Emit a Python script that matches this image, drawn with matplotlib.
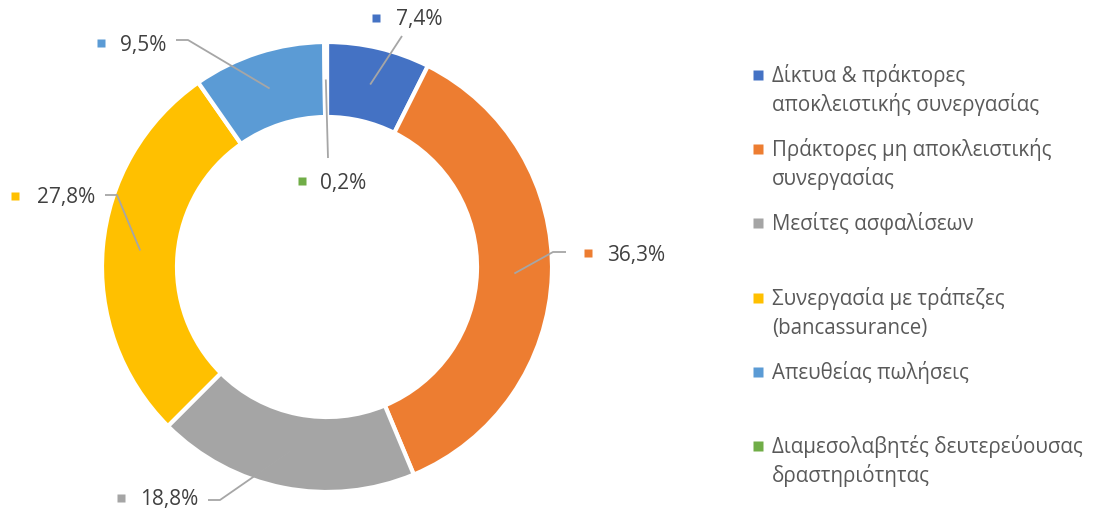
import numpy as np
import matplotlib
matplotlib.use("Agg")
import matplotlib.pyplot as plt

plt.rcParams['font.family'] = ['Open Sans', 'DejaVu Sans']

# данные
categories = [
    "Δίκτυα & πράκτορες\nαποκλειστικής συνεργασίας",
    "Πράκτορες μη αποκλειστικής\nσυνεργασίας",
    "Μεσίτες ασφαλίσεων",
    "Συνεργασία με τράπεζες\n(bancassurance)",
    "Απευθείας πωλήσεις",
    "Διαμεσολαβητές δευτερεύουσας\nδραστηριότητας",
]
values = [7.4, 36.3, 18.8, 27.8, 9.5, 0.2]
labels = ["7,4%", "36,3%", "18,8%", "27,8%", "9,5%", "0,2%"]
colors = ["#4472C4", "#ED7D31", "#A5A5A5", "#FFC000", "#5B9BD5", "#70AD47"]

W, H = 1102, 515
fig = plt.figure(figsize=(W / 100, H / 100), dpi=100)
ax = fig.add_axes([0, 0, 1, 1])

cx, cy = 327, H - 267
R, ring = 225, 75
wedges, _ = ax.pie(values, colors=colors, startangle=90, counterclock=False,
                   center=(cx, cy), radius=R,
                   wedgeprops=dict(width=ring, edgecolor="white", linewidth=3))
ax.set_xlim(0, W)
ax.set_ylim(0, H)
ax.set_aspect("equal")
ax.axis("off")

# подписи: (x маркера, x текста, y) в пикселях сверху, и излом линии
label_pos = [(376, 396, 18), (588, 607, 253), (121, 140, 498),
             (15, 37, 196), (101, 120, 43), (302, 320, 181)]
leader_pts = [
    [(402, 36)],
    [(553, 252), (566, 252)],
    [(220, 500), (208, 500)],
    [(117, 195), (105, 195)],
    [(188, 40), (176, 40)],
    [(328, 158)],
]

for w, lab, col, (mx, tx, ty), pts in zip(wedges, labels, colors, label_pos, leader_pts):
    ang = np.deg2rad((w.theta1 + w.theta2) / 2)
    r_mid = R - ring / 2
    ax0 = cx + r_mid * np.cos(ang)
    ay0 = cy + r_mid * np.sin(ang)
    xs = [ax0] + [p[0] for p in pts]
    ys = [ay0] + [H - p[1] for p in pts]
    ax.plot(xs, ys, color="#A6A6A6", lw=1.3, solid_capstyle="butt")
    ax.plot(mx, H - ty, marker="s", ms=5.5, color=col, mec="none")
    ax.text(tx, H - ty - 7.5, lab, fontsize=15, color="#404040",
            va="baseline", ha="left")

# легенда
for i, (cat, col) in enumerate(zip(categories, colors)):
    my = 75 + i * 74.2
    ax.plot(758, H - my, marker="s", ms=6.5, color=col, mec="none")
    for k, line in enumerate(cat.split("\n")):
        ax.text(772, H - (my + 7 + k * 29), line, fontsize=14.8,
                color="#595959", va="baseline", ha="left")

fig.savefig("out.png", dpi=100)
